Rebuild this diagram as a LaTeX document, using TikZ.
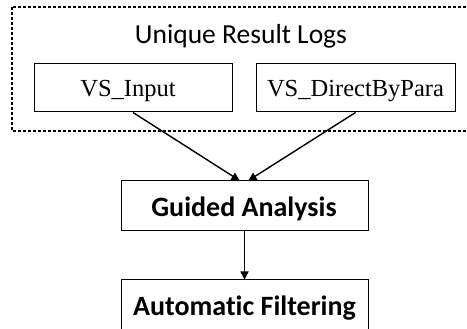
\documentclass[tikz,border=0pt]{standalone}
\usepackage{fontspec}
\setmainfont{Liberation Serif}
\newfontfamily\labelfont[Ligatures=NoCommon]{Carlito}
\usetikzlibrary{arrows.meta}
\begin{document}
\begin{tikzpicture}[x=1pt,y=-1pt,
  logbox/.style={draw,line width=1pt,minimum height=48pt},
  logtext/.style={anchor=base,font=\fontsize{24.5}{28}\selectfont},
  stagebox/.style={draw,line width=1pt,minimum width=247pt,minimum height=50pt},
  stagetext/.style={anchor=base,font=\labelfont\bfseries\fontsize{28}{32}\selectfont},
  flow/.style={line width=1.4pt,-{Triangle[length=8pt,width=8pt]}}]
\useasboundingbox (0,0) rectangle (467,329);
\clip (0,0) rectangle (467,329);
% group frame
\draw[line width=1.5pt,dash pattern=on 3pt off 2pt] (12,7) rectangle (480,131);
\node[anchor=base,font=\labelfont\fontsize{27.5}{32}\selectfont] (title) at (241,44) {Unique Result Logs};
% log nodes
\node[logbox,minimum width=198pt] (vsin) at (133,88) {};
\node[logtext] (vsinlbl) at (128,97) {VS\_Input};
\node[logbox,minimum width=199pt] (vsdir) at (355.5,88) {};
\node[logtext] (vsdirlbl) at (355.5,97) {VS\_DirectByPara};
% stages
\node[stagebox] (guided) at (244.5,206) {};
\node[stagetext] (guidedlbl) at (244,217) {Guided Analysis};
\node[stagebox,minimum height=60pt] (auto) at (244.5,310) {};
\node[stagetext] (autolbl) at (244.5,316) {Automatic Filtering};
% connectors
\draw[flow] (vsin.south) -- ([xshift=-5pt]guided.north);
\draw[flow] (vsdir.south) -- ([xshift=4pt]guided.north);
\draw[flow] (guided) -- (auto);
\end{tikzpicture}
\end{document}
